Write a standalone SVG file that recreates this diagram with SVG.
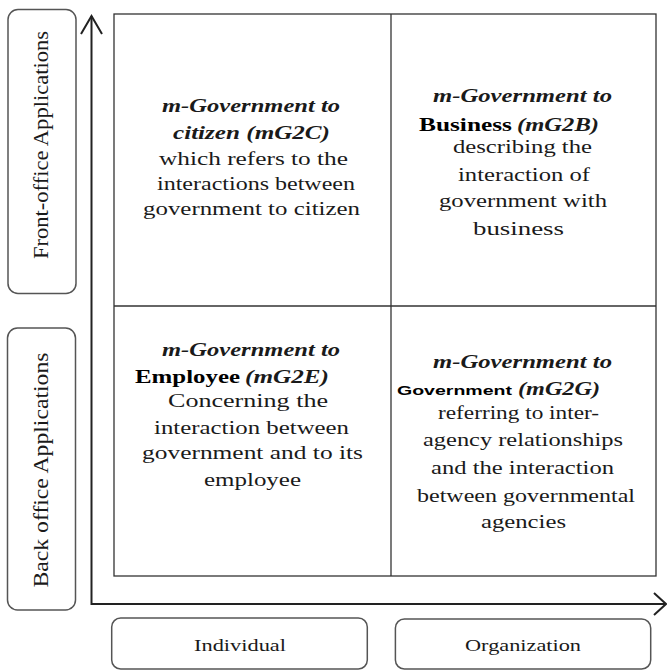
<svg xmlns="http://www.w3.org/2000/svg" width="667" height="671" viewBox="0 0 667 671">
<style>
.box{fill:#fff;stroke:#555;stroke-width:1.5}
.grid{fill:none;stroke:#333;stroke-width:1.3}
.axis{fill:none;stroke:#222;stroke-width:2}
</style>
<rect width="667" height="671" fill="#fff"/>
<g id="connectors">
<polyline class="axis" points="91.5,16 91.5,604 666,604"/>
<polyline class="axis" points="81,34 91.5,16 102,34"/>
<polyline class="axis" points="654,593 666,604 654,615"/>
</g>
<g id="grid">
<rect class="grid" x="114" y="14" width="542" height="562"/>
<line class="grid" x1="391" y1="14" x2="391" y2="576"/>
<line class="grid" x1="114" y1="306" x2="656" y2="306"/>
</g>
<g id="front-office">
<rect class="box" x="8" y="9.5" width="68" height="284" rx="10"/>
<text font-family="Liberation Serif" font-size="20" fill="#1a1a1a" text-anchor="middle" textLength="228" lengthAdjust="spacingAndGlyphs" transform="translate(48,145) rotate(-90)">Front-office Applications</text>
</g>
<g id="back-office">
<rect class="box" x="7.5" y="328" width="68" height="282" rx="10"/>
<text font-family="Liberation Serif" font-size="20" fill="#1a1a1a" text-anchor="middle" textLength="235" lengthAdjust="spacingAndGlyphs" transform="translate(48,470) rotate(-90)">Back office Applications</text>
</g>
<g id="individual">
<rect class="box" x="111.7" y="618" width="255.6" height="51" rx="9"/>
<text font-family="Liberation Serif" font-size="17" fill="#1a1a1a" x="240" y="651" text-anchor="middle" textLength="92" lengthAdjust="spacingAndGlyphs">Individual</text>
</g>
<g id="organization">
<rect class="box" x="395.4" y="619" width="255.3" height="50" rx="9"/>
<text font-family="Liberation Serif" font-size="17" fill="#1a1a1a" x="523" y="651" text-anchor="middle" textLength="116" lengthAdjust="spacingAndGlyphs">Organization</text>
</g>
<g id="mG2C">
<text font-family="Liberation Serif" font-size="19" fill="#1a1a1a" x="162" y="112" font-weight="bold" font-style="italic" textLength="178" lengthAdjust="spacingAndGlyphs">m-Government to</text>
<text font-family="Liberation Serif" font-size="19" fill="#1a1a1a" x="173" y="139" font-weight="bold" font-style="italic" textLength="157" lengthAdjust="spacingAndGlyphs">citizen (mG2C)</text>
<text font-family="Liberation Serif" font-size="19" fill="#1a1a1a" x="159" y="165" textLength="189" lengthAdjust="spacingAndGlyphs">which refers to the</text>
<text font-family="Liberation Serif" font-size="19" fill="#1a1a1a" x="157" y="190" textLength="198" lengthAdjust="spacingAndGlyphs">interactions between</text>
<text font-family="Liberation Serif" font-size="19" fill="#1a1a1a" x="143" y="215" textLength="217" lengthAdjust="spacingAndGlyphs">government to citizen</text>
</g>
<g id="mG2B">
<text font-family="Liberation Serif" font-size="19" fill="#1a1a1a" x="433" y="102" font-weight="bold" font-style="italic" textLength="179" lengthAdjust="spacingAndGlyphs">m-Government to</text>
<text font-family="Liberation Serif" font-size="18" fill="#000" x="419" y="131" font-weight="bold" textLength="93" lengthAdjust="spacingAndGlyphs">Business</text>
<text font-family="Liberation Serif" font-size="19" fill="#1a1a1a" x="517" y="131" font-weight="bold" font-style="italic" textLength="82" lengthAdjust="spacingAndGlyphs">(mG2B)</text>
<text font-family="Liberation Serif" font-size="19" fill="#1a1a1a" x="453" y="153" textLength="139" lengthAdjust="spacingAndGlyphs">describing the</text>
<text font-family="Liberation Serif" font-size="19" fill="#1a1a1a" x="458" y="181" textLength="132" lengthAdjust="spacingAndGlyphs">interaction of</text>
<text font-family="Liberation Serif" font-size="19" fill="#1a1a1a" x="439" y="207" textLength="168" lengthAdjust="spacingAndGlyphs">government with</text>
<text font-family="Liberation Serif" font-size="19" fill="#1a1a1a" x="473" y="235" textLength="91" lengthAdjust="spacingAndGlyphs">business</text>
</g>
<g id="mG2E">
<text font-family="Liberation Serif" font-size="19" fill="#1a1a1a" x="162" y="356" font-weight="bold" font-style="italic" textLength="178" lengthAdjust="spacingAndGlyphs">m-Government to</text>
<text font-family="Liberation Serif" font-size="18" fill="#000" x="135" y="383" font-weight="bold" textLength="105" lengthAdjust="spacingAndGlyphs">Employee</text>
<text font-family="Liberation Serif" font-size="19" fill="#1a1a1a" x="245" y="383" font-weight="bold" font-style="italic" textLength="84" lengthAdjust="spacingAndGlyphs">(mG2E)</text>
<text font-family="Liberation Serif" font-size="19" fill="#1a1a1a" x="168" y="407" textLength="160" lengthAdjust="spacingAndGlyphs">Concerning the</text>
<text font-family="Liberation Serif" font-size="19" fill="#1a1a1a" x="154" y="434" textLength="195" lengthAdjust="spacingAndGlyphs">interaction between</text>
<text font-family="Liberation Serif" font-size="19" fill="#1a1a1a" x="142" y="459" textLength="221" lengthAdjust="spacingAndGlyphs">government and to its</text>
<text font-family="Liberation Serif" font-size="19" fill="#1a1a1a" x="204" y="486" textLength="97" lengthAdjust="spacingAndGlyphs">employee</text>
</g>
<g id="mG2G">
<text font-family="Liberation Serif" font-size="19" fill="#1a1a1a" x="433" y="368" font-weight="bold" font-style="italic" textLength="179" lengthAdjust="spacingAndGlyphs">m-Government to</text>
<text font-family="Liberation Sans" font-size="13" fill="#000" x="397" y="395" font-weight="bold" textLength="115" lengthAdjust="spacingAndGlyphs">Government</text>
<text font-family="Liberation Serif" font-size="19" fill="#1a1a1a" x="518" y="395" font-weight="bold" font-style="italic" textLength="82" lengthAdjust="spacingAndGlyphs">(mG2G)</text>
<text font-family="Liberation Serif" font-size="19" fill="#1a1a1a" x="438" y="419" textLength="161" lengthAdjust="spacingAndGlyphs">referring to inter-</text>
<text font-family="Liberation Serif" font-size="19" fill="#1a1a1a" x="423" y="446" textLength="200" lengthAdjust="spacingAndGlyphs">agency relationships</text>
<text font-family="Liberation Serif" font-size="19" fill="#1a1a1a" x="431" y="474" textLength="183" lengthAdjust="spacingAndGlyphs">and the interaction</text>
<text font-family="Liberation Serif" font-size="19" fill="#1a1a1a" x="417" y="502" textLength="218" lengthAdjust="spacingAndGlyphs">between governmental</text>
<text font-family="Liberation Serif" font-size="19" fill="#1a1a1a" x="481" y="528" textLength="85" lengthAdjust="spacingAndGlyphs">agencies</text>
</g>
</svg>
